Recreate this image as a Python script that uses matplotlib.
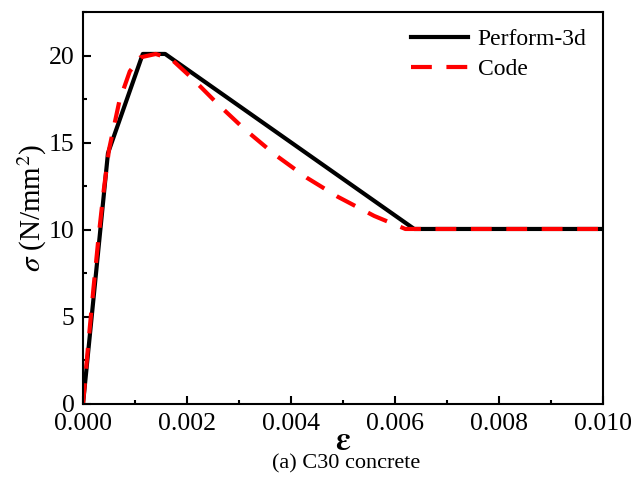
import matplotlib.pyplot as plt
from matplotlib.ticker import MultipleLocator

plt.rcParams['font.family'] = ['Liberation Serif', 'DejaVu Serif']
plt.rcParams['mathtext.fontset'] = 'stix'

# Perform-3d trilinear model
p3d_eps = [0.0, 0.00048, 0.00115, 0.00158, 0.00637, 0.010]
p3d_sig = [0.0, 14.4, 20.1, 20.1, 10.05, 10.05]

# code curve
code_eps = [0.0, 0.0001, 0.0002, 0.0003, 0.0004, 0.0005, 0.0007, 0.0009, 0.0011,
            0.0014, 0.0017, 0.0021, 0.0026, 0.0031, 0.0037, 0.0043, 0.0049,
            0.0056, 0.0062, 0.010]
code_sig = [0.0, 3.4, 6.6, 9.6, 12.3, 14.6, 17.4, 19.1, 19.9,
            20.1, 19.8, 18.7, 17.2, 15.8, 14.3, 13.0, 11.9,
            10.8, 10.05, 10.05]

fig = plt.figure(figsize=(6.36, 4.96), dpi=100)
ax = fig.add_axes([0.1305, 0.1855, 0.8175, 0.79])

ax.plot(p3d_eps, p3d_sig, color='black', lw=3, label='Perform-3d')
ax.plot(code_eps, code_sig, color='red', lw=3, dashes=(5, 3.5), label='Code')

ax.set_xlim(0, 0.010)
ax.set_ylim(0, 22.5)
ax.xaxis.set_major_locator(MultipleLocator(0.002))
ax.xaxis.set_minor_locator(MultipleLocator(0.001))
ax.yaxis.set_major_locator(MultipleLocator(5))
ax.yaxis.set_minor_locator(MultipleLocator(2.5))
ax.xaxis.set_major_formatter(plt.FuncFormatter(lambda v, p: '%.3f' % v))
ax.tick_params(which='both', direction='in', labelsize=18.5, width=1.5)
ax.tick_params(which='major', length=6)
ax.tick_params(axis='x', which='major', pad=6.5)
ax.tick_params(axis='y', which='major', pad=6)
ax.tick_params(which='minor', length=3)
for s in ax.spines.values():
    s.set_linewidth(1.5)

# lift the "0" on the y axis a little so it clears "0.000"
ax.yaxis.get_major_ticks()[0].label1.set_va('baseline')

ax.set_xlabel(r'$\boldsymbol{\varepsilon}$', fontsize=24, labelpad=-6)
ax.set_ylabel(r'$\sigma\ $(N/mm$^2$)', fontsize=21, labelpad=0)

leg = ax.legend(loc='upper right', fontsize=17, frameon=False, handlelength=2.4,
                handletextpad=0.4, labelspacing=0.35, borderaxespad=0.3)

fig.text(0.545, 0.064, '(a) C30 concrete', ha='center', va='center', fontsize=16)

fig.savefig('out.png', dpi=100)
